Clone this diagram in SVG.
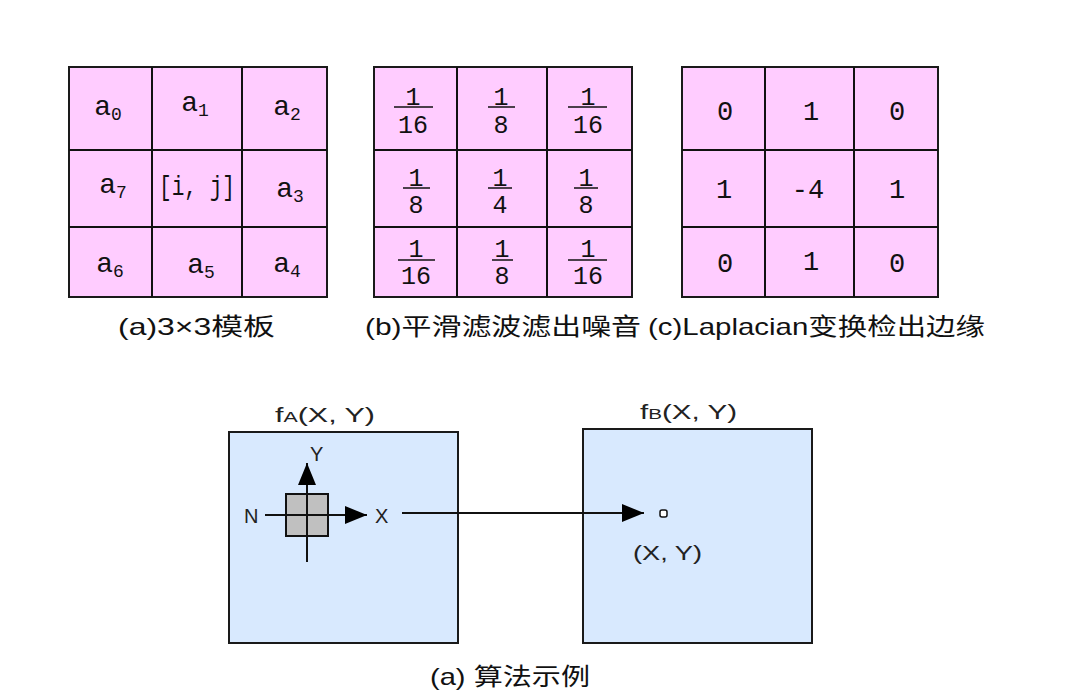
<svg xmlns="http://www.w3.org/2000/svg" width="1071" height="696" viewBox="0 0 1071 696">
<style>
.cell{fill:#ffccff;stroke:#1a1a1a;stroke-width:2}
.img{fill:#d8e9fe;stroke:#1a1a1a;stroke-width:2}
.t{font-family:"Liberation Mono","DejaVu Sans Mono",monospace;fill:#111;text-anchor:middle}
.a{font-size:28px}
.sub{font-size:18px}
.fr{font-size:25px}
.cap{font-family:"Liberation Sans","Noto Sans CJK SC",sans-serif;font-size:24px;fill:#111}
.lab{font-family:"Liberation Sans","Noto Sans CJK SC",sans-serif;font-size:20px;fill:#222}
.ln{stroke:#111;stroke-width:2;fill:none}
.fl{stroke:#111;stroke-width:2}
</style>
<defs>
<marker id="ahb" viewBox="0 0 22 18" refX="22" refY="9" markerWidth="22" markerHeight="18" markerUnits="userSpaceOnUse" orient="auto"><path d="M0,0L22,9L0,18z" fill="#000"/></marker>
</defs>
<rect width="1071" height="696" fill="#fff"/>

<g id="gridA">
<rect class="cell" x="69" y="67" width="258" height="230"/>
<path class="fl" d="M152,67V297M242,67V297M69,150H327M69,227H327"/>
<text class="t a" x="108" y="115">a<tspan class="sub" dy="5">0</tspan></text>
<text class="t a" x="195" y="111">a<tspan class="sub" dy="5">1</tspan></text>
<text class="t a" x="287" y="115">a<tspan class="sub" dy="5">2</tspan></text>
<text class="t a" x="113" y="193">a<tspan class="sub" dy="5">7</tspan></text>
<text class="t a" x="197" y="195" font-size="24" textLength="76" lengthAdjust="spacingAndGlyphs">[i, j]</text>
<text class="t a" x="290" y="197">a<tspan class="sub" dy="5">3</tspan></text>
<text class="t a" x="110" y="272">a<tspan class="sub" dy="5">6</tspan></text>
<text class="t a" x="201" y="273">a<tspan class="sub" dy="5">5</tspan></text>
<text class="t a" x="287" y="272">a<tspan class="sub" dy="5">4</tspan></text>
</g>

<g id="gridB">
<rect class="cell" x="374" y="67" width="258" height="230"/>
<path class="fl" d="M457,67V297M547,67V297M374,150H632M374,227H632"/>
<g class="t fr">
<text x="413" y="105">1</text><text x="413" y="133">16</text>
<text x="501" y="105">1</text><text x="501" y="133">8</text>
<text x="588" y="105">1</text><text x="588" y="133">16</text>
<text x="416" y="186">1</text><text x="416" y="213">8</text>
<text x="500" y="186">1</text><text x="500" y="213">4</text>
<text x="586" y="186">1</text><text x="586" y="213">8</text>
<text x="416" y="257">1</text><text x="416" y="284">16</text>
<text x="502" y="257">1</text><text x="502" y="284">8</text>
<text x="588" y="257">1</text><text x="588" y="284">16</text>
</g>
<path class="ln" style="stroke-width:1.5" d="M394,107H433M488,107H515M568,107H607M403,188H430M488,188H512M574,188H598M398,260H435M492,260H513M568,260H607"/>
</g>

<g id="gridC">
<rect class="cell" x="682" y="67" width="256" height="230"/>
<path class="fl" d="M765,67V297M854,67V297M682,150H938M682,227H938"/>
<g class="t" font-size="27">
<text x="725" y="120">0</text><text x="811" y="120">1</text><text x="897" y="120">0</text>
<text x="724" y="198">1</text><text x="808" y="198">-4</text><text x="897" y="198">1</text>
<text x="725" y="272">0</text><text x="811" y="270">1</text><text x="897" y="272">0</text>
</g>
</g>

<g id="captions">
<text class="cap" x="118" y="335" textLength="157" lengthAdjust="spacingAndGlyphs">(a)3×3模板</text>
<text class="cap" x="365" y="335" textLength="276" lengthAdjust="spacingAndGlyphs">(b)平滑滤波滤出噪音</text>
<text class="cap" x="648" y="335" textLength="337" lengthAdjust="spacingAndGlyphs">(c)Laplacian变换检出边缘</text>
</g>

<g id="imageA">
<rect class="img" x="229" y="432" width="229" height="211"/>
<text class="lab" x="275" y="422" textLength="100" lengthAdjust="spacingAndGlyphs">f<tspan font-size="14">A</tspan>(X, Y)</text>
<rect x="286" y="494" width="42" height="42" fill="#c0c0c0" stroke="#111" stroke-width="2"/>
<path class="ln" d="M265,515H367" marker-end="url(#ahb)"/>
<path class="ln" d="M307,562V463" marker-end="url(#ahb)"/>
<text class="lab" x="244" y="523">N</text>
<text class="lab" x="375" y="523">X</text>
<text class="lab" x="310" y="461">Y</text>
</g>

<g id="imageB">
<rect class="img" x="583" y="429" width="229" height="214"/>
<text class="lab" x="640" y="419" textLength="97" lengthAdjust="spacingAndGlyphs">f<tspan font-size="14">B</tspan>(X, Y)</text>
<rect x="660" y="510" width="7" height="7" rx="2" fill="#fff" stroke="#111" stroke-width="1.5"/>
<text class="lab" x="633" y="560" textLength="69" lengthAdjust="spacingAndGlyphs">(X, Y)</text>
</g>

<g id="connectors">
<path class="ln" d="M402,513H644" marker-end="url(#ahb)"/>
</g>

<text class="cap" x="430" y="685" textLength="160" lengthAdjust="spacingAndGlyphs">(a) 算法示例</text>
</svg>
